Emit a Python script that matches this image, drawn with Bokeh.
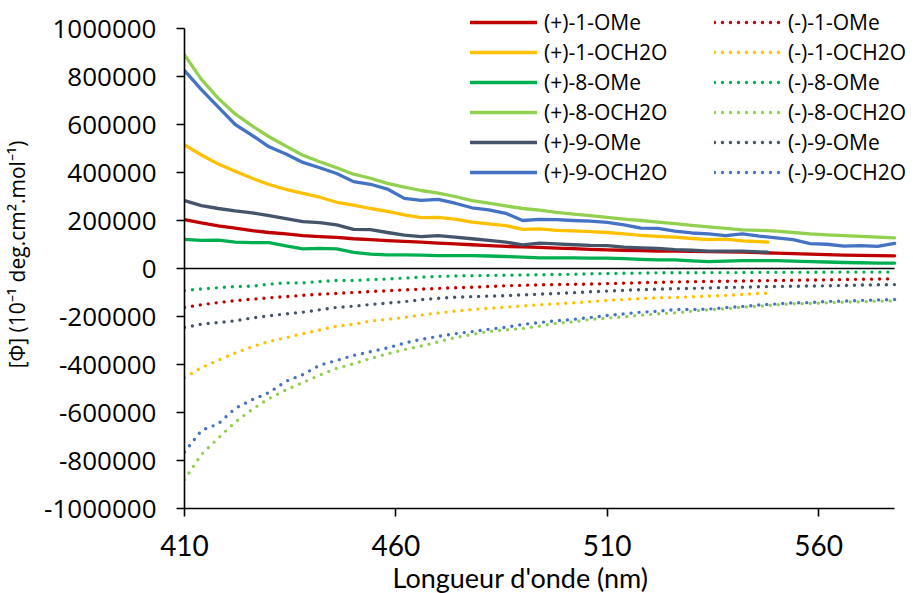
from bokeh.plotting import figure
from bokeh.models import Range1d, Legend, LegendItem, NumeralTickFormatter, FixedTicker, Title
from bokeh.embed import file_html
from bokeh.resources import INLINE

# ---------------- data ----------------
wavelength = [410, 414, 418, 422, 426, 430, 434, 438, 442, 446, 450, 454, 458, 462,
              466, 470, 474, 478, 482, 486, 490, 494, 498, 502, 506, 510, 514, 518,
              522, 526, 530, 534, 538, 542, 546, 550, 554, 558, 562, 566, 570, 574, 578]
wavelength_short = [410, 414, 418, 422, 426, 430, 434, 438, 442, 446, 450, 454, 458, 462,
                    466, 470, 474, 478, 482, 486, 490, 494, 498, 502, 506, 510, 514, 518,
                    522, 526, 530, 534, 538, 542, 546, 548]

p_1_OMe = [204000, 190000, 178000, 168000, 158000, 150000, 144000, 137000, 133000, 130000,
           124000, 120000, 116000, 113000, 110000, 106000, 103000, 99000, 95000, 92000,
           90000, 88000, 85000, 83000, 80000, 78000, 76000, 75000, 73000, 72000, 71000,
           70000, 69000, 68000, 66000, 64000, 62000, 60000, 58000, 56000, 55000, 54000, 53000]
p_1_OCH2O = [515000, 473000, 435000, 405000, 376000, 350000, 330000, 313000, 297000, 276000,
             264000, 250000, 238000, 223000, 212000, 213000, 206000, 193000, 186000, 179000,
             163000, 165000, 159000, 157000, 154000, 150000, 144000, 138000, 134000, 131000,
             125000, 120000, 122000, 115000, 112000, 110000]
p_8_OMe = [121000, 117000, 118000, 110000, 108000, 108000, 94000, 82000, 84000, 82000,
           67000, 60000, 57000, 57000, 56000, 54000, 54000, 54000, 52000, 50000, 47000,
           44000, 44000, 44000, 43000, 43000, 41000, 38000, 36000, 36000, 32000, 29000,
           31000, 33000, 33000, 33000, 31000, 29000, 27000, 25000, 24000, 22000, 22000]
p_8_OCH2O = [890000, 788000, 709000, 644000, 594000, 549000, 510000, 472000, 445000, 420000,
             393000, 376000, 355000, 339000, 325000, 314000, 300000, 283000, 272000, 261000,
             250000, 243000, 234000, 227000, 220000, 213000, 206000, 200000, 193000, 187000,
             180000, 173000, 167000, 161000, 159000, 156000, 150000, 144000, 140000, 137000,
             134000, 131000, 128000]
p_9_OMe = [283000, 262000, 250000, 240000, 232000, 220000, 208000, 195000, 191000, 182000,
           163000, 162000, 150000, 139000, 133000, 137000, 131000, 124000, 117000, 110000,
           98000, 106000, 103000, 99000, 96000, 95000, 89000, 86000, 84000, 79000, 76000,
           72000, 72000, 72000, 69000, 68000]
p_9_OCH2O = [825000, 745000, 672000, 600000, 555000, 507000, 477000, 442000, 420000, 396000,
             362000, 351000, 331000, 292000, 284000, 288000, 272000, 253000, 244000, 230000,
             200000, 205000, 204000, 200000, 197000, 192000, 182000, 168000, 167000, 156000,
             148000, 144000, 137000, 144000, 135000, 128000, 120000, 104000, 101000, 93000,
             95000, 92000, 105000]

m_1_OMe = [-162000, -151000, -142000, -134000, -128000, -122000, -117000, -112000, -107000,
           -104000, -100000, -96000, -93000, -89000, -86000, -83000, -80000, -78000, -75000,
           -72000, -70000, -68000, -67000, -66000, -65000, -63000, -61000, -59000, -58000,
           -56000, -55000, -54000, -53000, -52000, -51000, -50000, -49000, -48000, -47000,
           -46000, -45000, -44000, -43000]
m_1_OCH2O = [-455000, -413000, -382000, -352000, -326000, -304000, -288000, -272000, -256000,
             -240000, -232000, -219000, -212000, -204000, -194000, -185000, -178000, -171000,
             -166000, -161000, -156000, -151000, -147000, -143000, -138000, -133000, -129000,
             -125000, -122000, -121000, -118000, -115000, -112000, -108000, -104000, -103000]
m_8_OMe = [-92000, -85000, -80000, -75000, -74000, -65000, -60000, -60000, -54000, -50000,
           -50000, -46000, -44000, -40000, -36000, -33000, -31000, -30000, -29000, -28000,
           -27000, -26000, -25000, -24000, -22000, -21000, -20000, -19000, -18000, -18000,
           -18000, -17000, -17000, -17000, -16000, -16000, -16000, -16000, -15000, -15000,
           -15000, -15000, -15000]
m_8_OCH2O = [-880000, -775000, -706000, -640000, -587000, -542000, -506000, -475000, -444000,
             -416000, -397000, -375000, -356000, -338000, -323000, -306000, -288000, -275000,
             -262000, -256000, -250000, -240000, -228000, -222000, -212000, -207000, -201000,
             -194000, -189000, -185000, -178000, -172000, -168000, -161000, -157000, -151000,
             -147000, -146000, -143000, -140000, -139000, -136000, -135000]
m_9_OMe = [-246000, -232000, -225000, -218000, -206000, -197000, -189000, -182000, -172000,
           -162000, -157000, -150000, -144000, -138000, -130000, -124000, -120000, -117000,
           -115000, -113000, -110000, -107000, -104000, -101000, -97000, -94000, -91000,
           -88000, -86000, -84000, -83000, -81000, -79000, -78000, -76000, -75000, -74000,
           -73000, -72000, -71000, -69000, -68000, -67000]
m_9_OCH2O = [-765000, -675000, -647000, -583000, -547000, -517000, -470000, -442000, -403000,
             -383000, -362000, -347000, -331000, -311000, -295000, -283000, -272000, -263000,
             -253000, -245000, -233000, -225000, -218000, -212000, -204000, -196000, -189000,
             -182000, -178000, -171000, -171000, -169000, -163000, -158000, -152000, -148000,
             -143000, -142000, -137000, -136000, -133000, -131000, -129000]

x_ticks = [410, 460, 510, 560]
y_ticks = [-1000000, -800000, -600000, -400000, -200000, 0,
           200000, 400000, 600000, 800000, 1000000]
x_min, x_max = 410, 578
y_min, y_max = -1000000, 1000000

# ---------------- layout / styles ----------------
RED, YELLOW, GREEN, LGREEN, SLATE, BLUE = "#C00000", "#FFC000", "#00B050", "#92D050", "#44546A", "#4472C4"

W, H = 905, 593
LEFT = 178            # plot-area left edge inside the canvas
BOTTOM_PX = 508       # pixel row of y_min
TOP_PX = 28           # pixel row of y_max
PX_PER_NM = 4.262
frame_w = W - LEFT
y_per_px = (y_max - y_min) / (BOTTOM_PX - TOP_PX)
y_top = y_max + TOP_PX * y_per_px
x_right = x_min + frame_w / PX_PER_NM

solid_series = [
    ("(+)-1-OMe", wavelength, p_1_OMe, RED),
    ("(+)-1-OCH2O", wavelength_short, p_1_OCH2O, YELLOW),
    ("(+)-8-OMe", wavelength, p_8_OMe, GREEN),
    ("(+)-8-OCH2O", wavelength, p_8_OCH2O, LGREEN),
    ("(+)-9-OMe", wavelength_short, p_9_OMe, SLATE),
    ("(+)-9-OCH2O", wavelength, p_9_OCH2O, BLUE),
]
dotted_series = [
    ("(-)-1-OMe", wavelength, m_1_OMe, RED),
    ("(-)-1-OCH2O", wavelength_short, m_1_OCH2O, YELLOW),
    ("(-)-8-OMe", wavelength, m_8_OMe, GREEN),
    ("(-)-8-OCH2O", wavelength, m_8_OCH2O, LGREEN),
    ("(-)-9-OMe", wavelength, m_9_OMe, SLATE),
    ("(-)-9-OCH2O", wavelength, m_9_OCH2O, BLUE),
]

p = figure(width=W, height=H, output_backend="svg", toolbar_location=None,
           x_range=Range1d(x_min, x_right), y_range=Range1d(y_min, y_top),
           min_border_left=LEFT, min_border_right=0, min_border_top=0,
           min_border_bottom=H - BOTTOM_PX)
p.outline_line_color = None
p.xgrid.visible = False
p.ygrid.visible = False
p.background_fill_color = "white"
p.border_fill_color = "white"

# zero line across the plot area
p.segment(x0=[x_min], y0=[0], x1=[x_max], y1=[0], line_color="black", line_width=1.6)

for ax in (p.xaxis[0], p.yaxis[0]):
    ax.axis_line_color = "black"
    ax.axis_line_width = 1.6
    ax.major_tick_line_color = "black"
    ax.major_tick_line_width = 1.6
    ax.major_tick_out = 8
    ax.major_tick_in = 0
    ax.minor_tick_line_color = None
    ax.major_label_text_color = "black"
    ax.axis_label_text_color = "black"
    ax.axis_label_text_font_style = "normal"

p.xaxis.bounds = (x_min, x_max)
p.yaxis.bounds = (y_min, y_max)
p.xaxis.ticker = FixedTicker(ticks=x_ticks)
p.yaxis.ticker = FixedTicker(ticks=y_ticks)
p.yaxis.formatter = NumeralTickFormatter(format="0")

p.yaxis.major_label_text_font = "Open Sans"
p.yaxis.major_label_text_font_size = "26px"
p.yaxis.major_label_standoff = 20
p.xaxis.major_label_text_font = "Lato"
p.xaxis.major_label_text_font_size = "28px"
p.xaxis.major_label_standoff = 18

p.yaxis.axis_label = "[\u03a6] (10\u207b\u00b9 deg.cm\u00b2.mol\u207b\u00b9)"
p.yaxis.axis_label_text_font = "Open Sans"
p.yaxis.axis_label_text_font_size = "21px"
p.yaxis.axis_label_standoff = 10

# x title, placed as in the reference (a little left of the plot-area centre)
p.add_layout(Title(text="Longueur d'onde (nm)", align="left", offset=208,
                   text_font="Lato", text_font_size="27px", text_font_style="normal",
                   text_color="black", standoff=0), "below")

items_solid, items_dotted = [], []
for name, xs, ys, col in solid_series:
    r = p.line(xs, ys, line_color=col, line_width=3.3, line_cap="round", line_join="round")
    items_solid.append(LegendItem(label=name, renderers=[r]))
for name, xs, ys, col in dotted_series:
    r = p.line(xs, ys, line_color=col, line_width=3.4, line_cap="round", line_join="round",
               line_dash="0 8")
    items_dotted.append(LegendItem(label=name, renderers=[r]))

for items, lx in ((items_solid, 286), (items_dotted, 530)):
    leg = Legend(items=items, location=(lx, 322), orientation="vertical",
                 padding=0, margin=0, spacing=2, glyph_width=67, glyph_height=28,
                 label_height=28, label_standoff=7,
                 label_text_font="Open Sans", label_text_font_size="21px",
                 label_text_color="black", background_fill_alpha=0,
                 border_line_color=None)
    p.add_layout(leg)

open("out.html", "w").write(file_html(p, INLINE))
